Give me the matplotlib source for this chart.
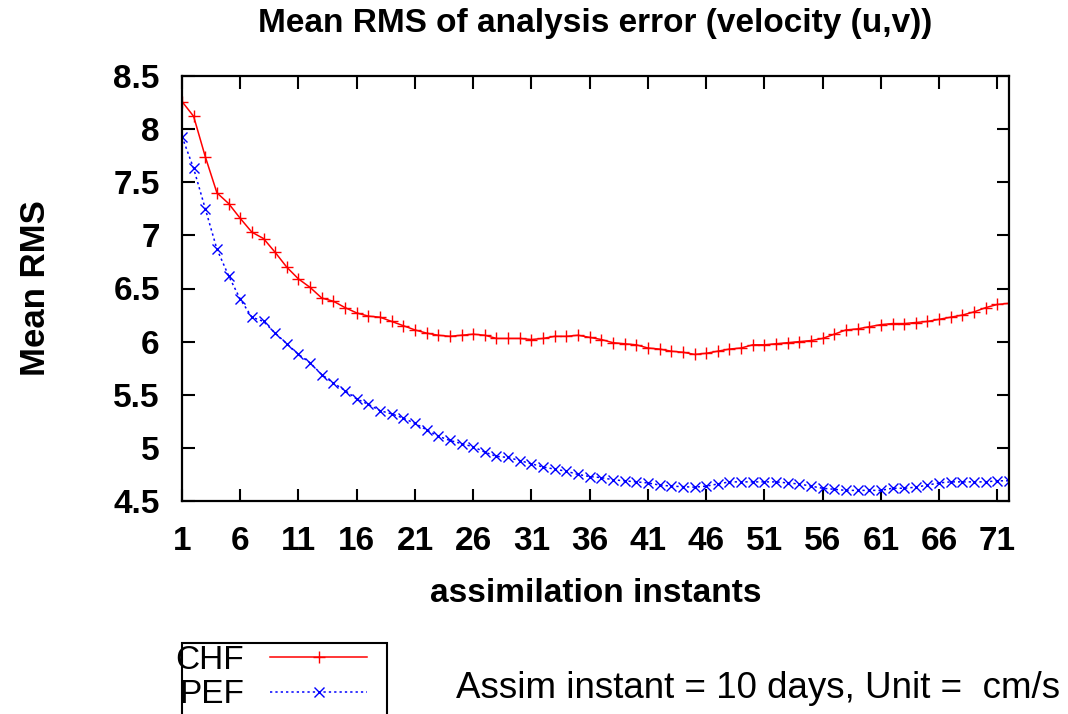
import matplotlib
matplotlib.use('Agg')
import matplotlib.pyplot as plt
from matplotlib.patches import Rectangle

plt.rcParams['font.family'] = ['Liberation Sans', 'DejaVu Sans']

instants = list(range(1, 73))

chf = [8.26, 8.12, 7.74, 7.40, 7.30, 7.16, 7.03, 6.97, 6.84, 6.70,
       6.59, 6.51, 6.41, 6.38, 6.32, 6.27, 6.24, 6.23, 6.19, 6.15,
       6.11, 6.08, 6.06, 6.05, 6.06, 6.07, 6.06, 6.03, 6.03, 6.03,
       6.02, 6.03, 6.05, 6.05, 6.06, 6.04, 6.02, 5.99, 5.98, 5.97,
       5.94, 5.93, 5.91, 5.90, 5.88, 5.89, 5.91, 5.93, 5.94, 5.97,
       5.97, 5.98, 5.99, 6.00, 6.01, 6.03, 6.07, 6.11, 6.12, 6.14,
       6.16, 6.17, 6.17, 6.18, 6.19, 6.21, 6.23, 6.25, 6.28, 6.32,
       6.35, 6.36]

pef = [7.93, 7.63, 7.25, 6.87, 6.62, 6.40, 6.23, 6.19, 6.08, 5.98,
       5.88, 5.80, 5.69, 5.61, 5.54, 5.46, 5.41, 5.35, 5.32, 5.28,
       5.23, 5.17, 5.11, 5.07, 5.04, 5.01, 4.96, 4.92, 4.91, 4.88,
       4.85, 4.82, 4.80, 4.78, 4.75, 4.73, 4.72, 4.70, 4.69, 4.68,
       4.67, 4.65, 4.64, 4.635, 4.63, 4.64, 4.66, 4.68, 4.68, 4.68,
       4.68, 4.68, 4.67, 4.66, 4.64, 4.62, 4.61, 4.60, 4.60, 4.60,
       4.60, 4.62, 4.62, 4.63, 4.65, 4.67, 4.68, 4.68, 4.68, 4.68,
       4.69, 4.69]

x_ticks = list(range(1, 72, 5))
y_ticks = [4.5, 5, 5.5, 6, 6.5, 7, 7.5, 8, 8.5]
y_tick_labels = ['4.5', '5', '5.5', '6', '6.5', '7', '7.5', '8', '8.5']

W, H = 1068, 714
fig = plt.figure(figsize=(W / 100, H / 100), dpi=100)
ax = fig.add_axes([182 / W, 1 - 501 / H, (1009 - 182) / W, (501 - 76) / H])

l1, = ax.plot(instants, chf, color='red', lw=1.1, marker='+', ms=8, mew=1.0)
l2, = ax.plot(instants, pef, color='blue', lw=1.1, ls=(0, (1.5, 2)), marker='x', ms=7, mew=1.0)

ax.set_xlim(1, 72)
ax.set_ylim(4.5, 8.5)
ax.set_xticks(x_ticks)
ax.set_yticks(y_ticks)
ax.set_yticklabels(y_tick_labels)
ax.tick_params(direction='in', length=9, width=1.5, labelsize=24, top=True, right=True)
ax.tick_params(axis='x', pad=18)
ax.tick_params(axis='y', pad=16)
for lab in ax.get_xticklabels() + ax.get_yticklabels():
    lab.set_fontweight('bold')
for s in ax.spines.values():
    s.set_linewidth(1.6)

ax.set_title('Mean RMS of analysis error (velocity (u,v))', fontsize=24,
             fontweight='bold', pad=32)
ax.set_xlabel('assimilation instants', fontsize=24, fontweight='bold', labelpad=15)
ax.set_ylabel('Mean RMS', fontsize=25, fontweight='bold', labelpad=44)

leg = fig.legend([l1, l2], ['CHF', 'PEF'], loc='upper left',
                 bbox_to_anchor=(175 / W, 1 - 645 / H), markerfirst=False,
                 fontsize=24, frameon=False, borderpad=0,
                 labelspacing=0.1, handlelength=2.9, handletextpad=0.8,
                 borderaxespad=0)
fig.patches.append(Rectangle((182 / W, -0.01), (387 - 182) / W, 1 - 643 / H + 0.01,
                             transform=fig.transFigure, fill=False,
                             edgecolor='black', linewidth=1.5))

fig.text(1060 / W, 1 - 688 / H, 'Assim instant = 10 days, Unit =  cm/s',
         fontsize=26.5, ha='right', va='center')

fig.savefig('out.png', dpi=100)
